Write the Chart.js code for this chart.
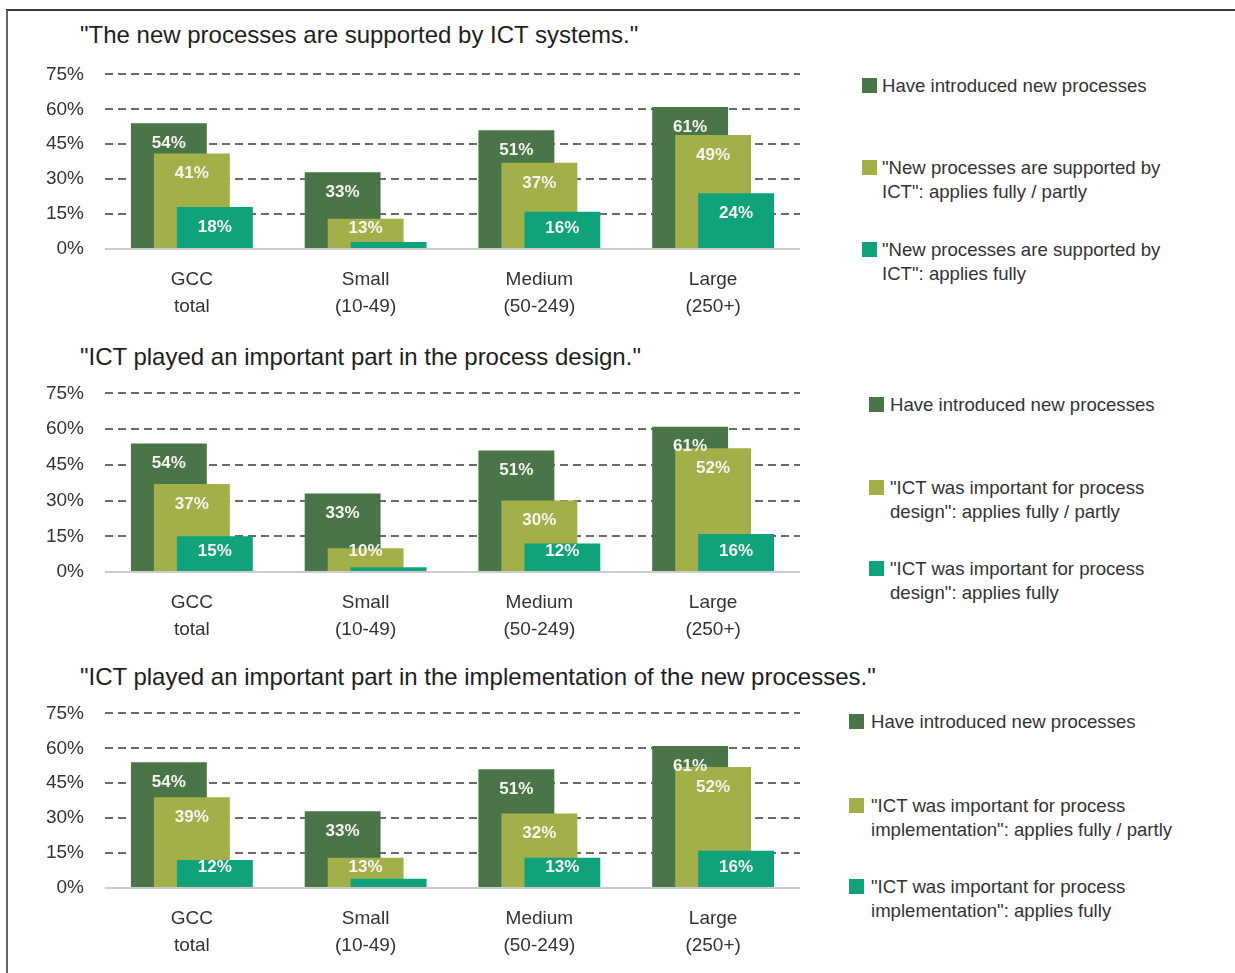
<!DOCTYPE html>
<html>
<head>
<meta charset="utf-8">
<title>ICT and new processes</title>
<script src="https://cdn.jsdelivr.net/npm/chart.js@4/dist/chart.umd.min.js"></script>
<style>
  body { margin: 0; width: 1235px; height: 973px; background: #fff; position: relative; overflow: hidden;
         font-family: "Liberation Sans", Arial, sans-serif; }
  #frame { position: absolute; left: 6px; top: 9px; right: -10px; bottom: -10px;
           border-top: 2px solid #3a3a3a; border-left: 2px solid #666; }
  .title { position: absolute; left: 80px; font-size: 24px; color: #1e1e1e; white-space: nowrap; line-height: 26px; }
  canvas { position: absolute; left: 0; }
  .item { position: absolute; font-size: 18.6px; color: #333; line-height: 24.5px; white-space: nowrap; }
  .swatch { position: absolute; width: 15px; height: 15px; }
</style>
</head>
<body>
<div id="frame"></div>
<script>
// categories along the x axis (two-line labels)
const categories = [['GCC', 'total'], ['Small', '(10-49)'], ['Medium', '(50-249)'], ['Large', '(250+)']];
const yMax = 75;
const yStep = 15;

// panel 1: supported by ICT systems
const introduced1 = [54, 33, 51, 61];
const fullyPartly1 = [41, 13, 37, 49];
const fully1 = [18, 3, 16, 24];

// panel 2: ICT important for process design
const introduced2 = [54, 33, 51, 61];
const fullyPartly2 = [37, 10, 30, 52];
const fully2 = [15, 2, 12, 16];

// panel 3: ICT important for implementation
const introduced3 = [54, 33, 51, 61];
const fullyPartly3 = [39, 13, 32, 52];
const fully3 = [12, 4, 13, 16];

const titles = [
  '"The new processes are supported by ICT systems."',
  '"ICT played an important part in the process design."',
  '"ICT played an important part in the implementation of the new processes."'
];

const legendText1 = [['Have introduced new processes'],
  ['"New processes are supported by', 'ICT": applies fully / partly'],
  ['"New processes are supported by', 'ICT": applies fully']];
const legendText2 = [['Have introduced new processes'],
  ['"ICT was important for process', 'design": applies fully / partly'],
  ['"ICT was important for process', 'design": applies fully']];
const legendText3 = [['Have introduced new processes'],
  ['"ICT was important for process', 'implementation": applies fully / partly'],
  ['"ICT was important for process', 'implementation": applies fully']];

const colors = ['#4a7548', '#a3af49', '#10a27a'];
const FONT = '"Liberation Sans", Arial, sans-serif';

// where each panel sits on the page
const panels = [
  { series: [introduced1, fullyPartly1, fully1], legend: legendText1, titleY: 35,
    gridTop: 74, gridBottom: 249, swatchX: 862, textX: 882, itemY: [86, 168, 250] },
  { series: [introduced2, fullyPartly2, fully2], legend: legendText2, titleY: 357,
    gridTop: 393, gridBottom: 572, swatchX: 869, textX: 890, itemY: [405, 488, 569] },
  { series: [introduced3, fullyPartly3, fully3], legend: legendText3, titleY: 677,
    gridTop: 713, gridBottom: 888, swatchX: 849, textX: 871, itemY: [722, 806, 887] }
];

// bars are drawn left to right so the right-hand bar of each group lies on top,
// then the value labels go over all of them
const barsAndLabels = {
  id: 'barsAndLabels',
  beforeDatasetsDraw(chart) {
    const ctx = chart.ctx;
    chart.data.datasets.forEach((ds, i) => chart.getDatasetMeta(i).controller.draw());

    ctx.save();
    ctx.fillStyle = '#f6f6f0';
    ctx.font = 'bold 17px ' + FONT;
    ctx.textAlign = 'center';
    ctx.textBaseline = 'middle';
    chart.data.datasets.forEach((ds, i) => {
      chart.getDatasetMeta(i).data.forEach((bar, j) => {
        const h = bar.base - bar.y;
        if (h < 15) return; // too thin for a label
        const drop = Math.min(20, Math.max(2, h - 20));
        ctx.fillText(ds.data[j] + '%', bar.x, bar.y + drop);
      });
    });
    ctx.restore();
    return false;
  }
};

// layout padding plus the half-height of the top tick label
const TOP_OFF = 32;
const X_AXIS_H = 75;

panels.forEach((p, k) => {
  const title = document.createElement('div');
  title.className = 'title';
  title.style.top = (p.titleY - 13) + 'px';
  title.textContent = titles[k];
  document.body.appendChild(title);

  const canvas = document.createElement('canvas');
  canvas.width = 830;
  canvas.height = (p.gridBottom - p.gridTop) + TOP_OFF + X_AXIS_H;
  canvas.style.top = (p.gridTop - TOP_OFF) + 'px';
  document.body.appendChild(canvas);

  new Chart(canvas.getContext('2d'), {
    type: 'bar',
    data: {
      labels: categories,
      datasets: p.series.map((values, i) => ({
        data: values,
        backgroundColor: colors[i],
        borderWidth: 0,
        categoryPercentage: 0.397,
        barPercentage: 3.3
      }))
    },
    options: {
      responsive: false,
      animation: false,
      devicePixelRatio: 1,
      layout: { padding: { top: 20, right: 30, bottom: 0, left: 0 } },
      plugins: { legend: { display: false }, tooltip: { enabled: false } },
      scales: {
        x: {
          grid: { display: false, drawTicks: false },
          border: { display: false },
          ticks: { color: '#333', padding: 18, font: { family: FONT, size: 19, lineHeight: 1.38 } },
          afterFit(s) { s.height = X_AXIS_H; }
        },
        y: {
          min: 0,
          max: yMax,
          grid: {
            drawTicks: false,
            lineWidth: 2,
            color: c => c.tick && c.tick.value === 0 ? '#cccccc' : '#6e6a6a'
          },
          border: { display: false, dash: c => c.tick && c.tick.value === 0 ? [] : [8, 5] },
          ticks: {
            stepSize: yStep,
            padding: 21,
            color: '#333',
            font: { family: FONT, size: 19 },
            callback: v => v + '%'
          },
          afterFit(s) { s.width = 105; }
        }
      }
    },
    plugins: [barsAndLabels]
  });

  // legend on the right
  p.legend.forEach((lines, i) => {
    const sw = document.createElement('div');
    sw.className = 'swatch';
    sw.style.left = p.swatchX + 'px';
    sw.style.top = (p.itemY[i] - 8) + 'px';
    sw.style.background = colors[i];
    document.body.appendChild(sw);

    const item = document.createElement('div');
    item.className = 'item';
    item.style.left = p.textX + 'px';
    item.style.top = (p.itemY[i] - 12.25) + 'px';
    item.innerHTML = lines.map(t => t.replace(/&/g, '&amp;').replace(/</g, '&lt;')).join('<br>');
    document.body.appendChild(item);
  });
});
</script>
</body>
</html>
